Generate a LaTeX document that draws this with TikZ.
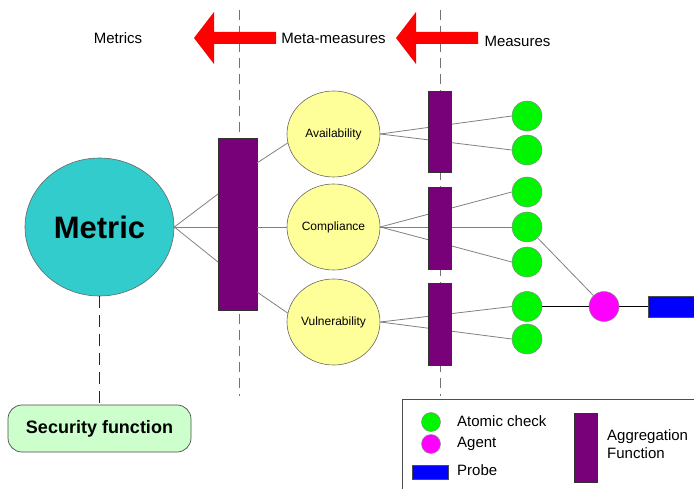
\documentclass[tikz,border=0pt]{standalone}
\usepackage{fontspec}
\setmainfont{Liberation Sans}
\usetikzlibrary{shapes.geometric}
\definecolor{aggpurple}{RGB}{120,0,120}
\definecolor{metricteal}{RGB}{51,204,204}
\definecolor{measyellow}{RGB}{255,255,153}
\definecolor{checkgreen}{RGB}{0,245,0}
\definecolor{secgreen}{RGB}{204,255,204}
\definecolor{linegray}{RGB}{128,128,128}
\definecolor{agentmag}{RGB}{255,0,255}
\definecolor{probeblue}{RGB}{0,0,255}
\definecolor{arrowred}{RGB}{255,0,0}
\pgfdeclarelayer{bg}
\pgfsetlayers{bg,main}
\begin{document}
\begin{tikzpicture}[x=1pt,y=-1pt,
  conn/.style={draw=linegray, line width=0.8pt},
  darkconn/.style={draw=black, line width=1pt},
  aggbox/.style={draw=black!80, fill=aggpurple, line width=0.6pt, minimum width=23pt, inner sep=0},
  check/.style={circle, draw=black!45, fill=checkgreen, line width=0.5pt, minimum size=30pt, inner sep=0},
  agentnode/.style={circle, draw=black!45, fill=agentmag, line width=0.5pt, minimum size=30pt, inner sep=0},
  meas/.style={ellipse, draw=black!60, fill=measyellow, line width=0.6pt, minimum width=93pt, minimum height=86pt, inner sep=0, font=\fontsize{12}{14}\selectfont},
  lbl/.style={font=\fontsize{15}{18}\selectfont, inner sep=0},
  guide/.style={draw=black!55, dash pattern=on 10pt off 6pt, line width=0.7pt},
  bigarrow/.style={fill=arrowred, draw=none}
]
\useasboundingbox (0,0) rectangle (694,489);

% header labels and arrows
\node[lbl] (metrics) at (118,38) {Metrics};
\node[lbl] (metameas) at (333.5,38) {Meta-measures};
\node[lbl] (measures) at (517.5,41) {Measures};
\fill[bigarrow] (194,38) -- (214,12) -- (214,32) -- (276,32) -- (276,44) -- (214,44) -- (214,64) -- cycle;
\fill[bigarrow] (396,38) -- (416,12) -- (416,32) -- (478,32) -- (478,44) -- (416,44) -- (416,64) -- cycle;

% main nodes
\node[ellipse, draw=black!60, fill=metricteal, line width=0.6pt, minimum width=149pt, minimum height=138pt, inner sep=0,
      font=\fontsize{31}{36}\selectfont\bfseries] (metric) at (99.5,227) {Metric};
\node[aggbox, minimum width=39pt, minimum height=172pt] (agg) at (237.5,224) {};

\node[meas] (avail) at (333.5,134) {Availability};
\node[meas] (compl) at (333.5,227) {Compliance};
\node[meas] (vuln) at (333.5,322) {Vulnerability};

\node[aggbox, minimum height=81pt] (aggA) at (440,131.5) {};
\node[aggbox, minimum height=82pt] (aggC) at (440,228) {};
\node[aggbox, minimum height=82pt] (aggV) at (440,324) {};

\node[check] (c1) at (527,116) {};
\node[check] (c2) at (527,150) {};
\node[check] (c3) at (527,192) {};
\node[check] (c4) at (527,227) {};
\node[check] (c5) at (527,262) {};
\node[check] (c6) at (527,306.5) {};
\node[check] (c7) at (527,339) {};

\node[agentnode] (agent) at (604,306.5) {};
\node[draw=black!70, fill=probeblue, line width=0.6pt, minimum width=52pt, minimum height=21pt, inner sep=0] (probe) at (674,306.5) {};

\node[rounded corners=14pt, draw=black!70, fill=secgreen, line width=0.7pt, minimum width=183pt, minimum height=47pt,
      font=\fontsize{18}{21}\selectfont\bfseries] (sec) at (99.5,428.5) {Security function};

% anchor points on the big aggregation box
\coordinate (aggL1) at (218,194);
\coordinate (aggL2) at (218,227);
\coordinate (aggL3) at (218,262);
\coordinate (aggR1) at (257,163);
\coordinate (aggR2) at (257,227);
\coordinate (aggR3) at (257,292);

% guide lines
\coordinate (g1t) at (239,10);
\coordinate (g1b) at (239,396);
\coordinate (g2t) at (440,10);
\coordinate (g2b) at (440,396);

\begin{pgfonlayer}{bg}
  \draw[guide] (g1t) -- (g1b);
  \draw[guide] (g2t) -- (g2b);
  \draw[conn] (avail.east) -- (c1.west);
  \draw[conn] (avail.east) -- (c2.west);
  \draw[conn] (compl.east) -- (c3.west);
  \draw[conn] (compl.east) -- (c4.west);
  \draw[conn] (compl.east) -- (c5.west);
  \draw[conn] (vuln.east) -- (c6.west);
  \draw[conn] (vuln.east) -- (c7.west);
\end{pgfonlayer}

\draw[conn] (metric.east) -- (aggL1);
\draw[conn] (metric.east) -- (aggL2);
\draw[conn] (metric.east) -- (aggL3);
\draw[conn] (aggR1) -- (avail.191);
\draw[conn] (aggR2) -- (compl.west);
\draw[conn] (aggR3) -- (vuln.169);
\draw[conn] (c4) -- (agent);
\draw[darkconn] (c6.east) -- (agent.west);
\draw[darkconn] (agent.east) -- (probe.west);
\draw[draw=black!85, line width=1.2pt, dash pattern=on 12pt off 7pt] (metric.south) -- (sec.north);

% legend
\node[draw=black!70, line width=0.8pt, minimum width=300pt, minimum height=96pt, inner sep=0, anchor=north west] (legend) at (402,399) {};
\node[check, minimum size=19pt] (lgcheck) at (431,422) {};
\node[lbl, anchor=west] (lgchecktxt) at (457,421) {Atomic check};
\node[agentnode, minimum size=19pt] (lgagent) at (431,444) {};
\node[lbl, anchor=west] (lgagenttxt) at (457,444) {Agent};
\node[draw=black!70, fill=probeblue, line width=0.6pt, minimum width=36pt, minimum height=14pt, inner sep=0] (lgprobe) at (430,472) {};
\node[lbl, anchor=west] (lgprobetxt) at (457,470) {Probe};
\node[aggbox, minimum width=23pt, minimum height=69pt] (lgagg) at (585.5,447.5) {};
\node[lbl, anchor=west, align=left] (lgaggtxt) at (607,444) {Aggregation\\Function};
\end{tikzpicture}
\end{document}
